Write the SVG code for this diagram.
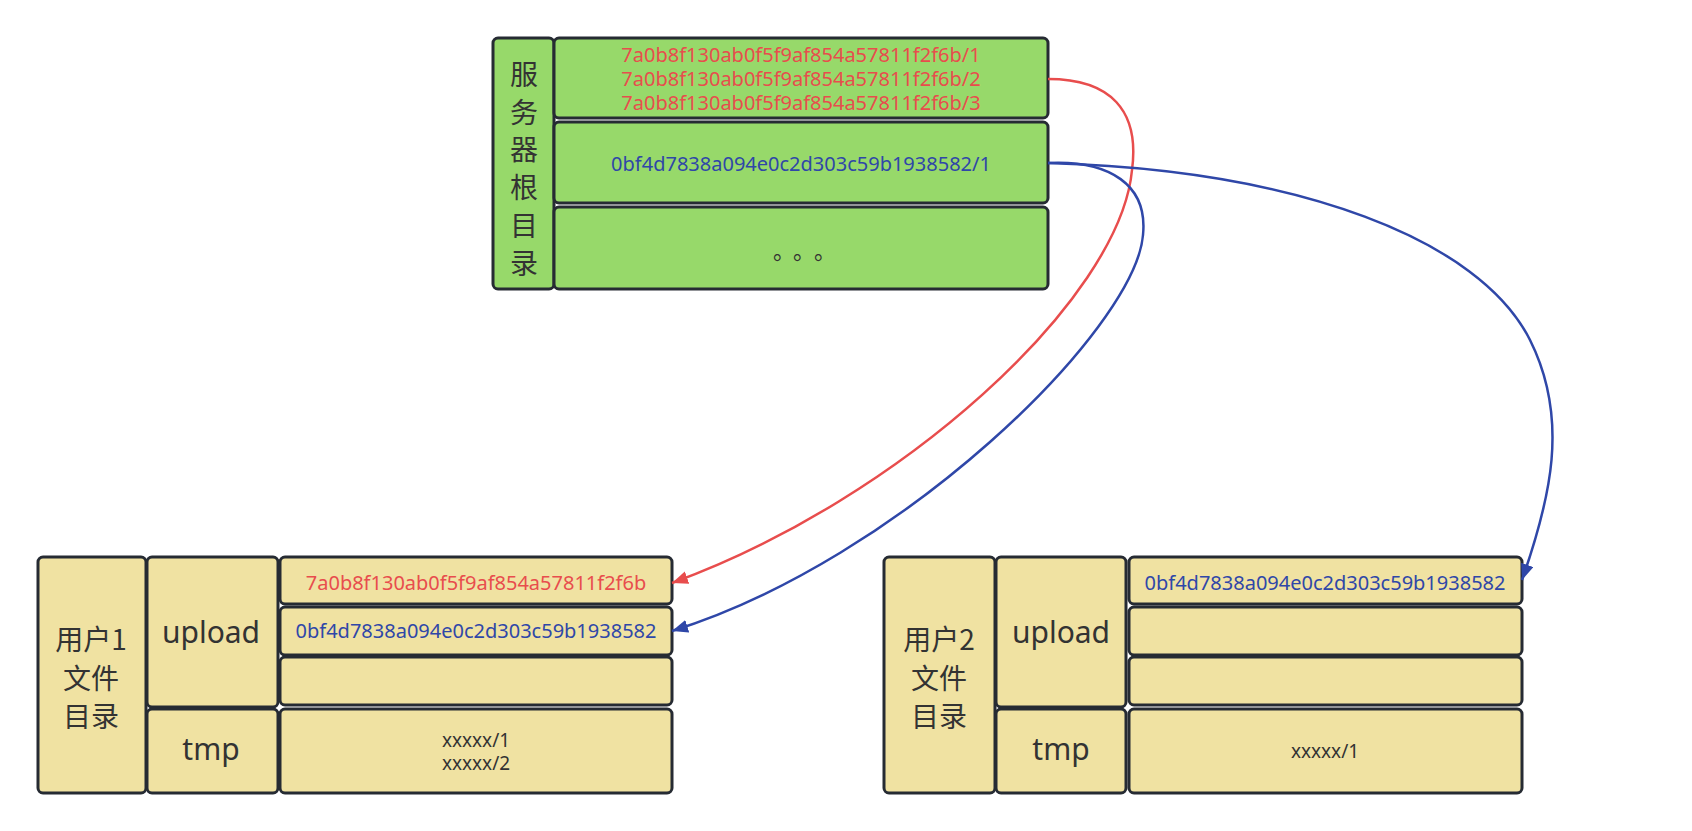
<svg xmlns="http://www.w3.org/2000/svg" width="1692" height="831" viewBox="0 0 1692 831">
  <defs>
    <style>
      .g { fill: #97D96A; stroke: #262B33; stroke-width: 3; }
      .y { fill: #F0E2A2; stroke: #262B33; stroke-width: 3; }
      text { font-family: "Noto Sans", "Noto Sans CJK SC", sans-serif; fill: #333333; text-anchor: middle; }
      .cjk { font-family: "Noto Sans CJK SC", "Noto Sans", sans-serif; font-size: 28px; }
      .lbl { font-size: 30px; }
      .h { font-size: 20px; }
      .sm { font-size: 19px; }
      .dot { font-family: "Noto Sans CJK SC", sans-serif; font-size: 22px; }
      .red { fill: #E84D4D; }
      .blue { fill: #2F47A8; }
      .cr { fill: none; stroke: #E84D4D; stroke-width: 2.5; }
      .cb { fill: none; stroke: #2F47A8; stroke-width: 2.5; }
    </style>
    <marker id="ar" markerUnits="userSpaceOnUse" markerWidth="18" markerHeight="14" refX="16" refY="6.5" orient="auto">
      <path d="M0,0 L16,6.5 L0,13 z" fill="#E84D4D"/>
    </marker>
    <marker id="ab" markerUnits="userSpaceOnUse" markerWidth="18" markerHeight="14" refX="16" refY="6.5" orient="auto">
      <path d="M0,0 L16,6.5 L0,13 z" fill="#2F47A8"/>
    </marker>
  </defs>
  <rect width="1692" height="831" fill="#FFFFFF"/>

  <g id="server">
    <rect class="g" x="493" y="38" width="61" height="251" rx="5"/>
    <text class="cjk" x="524" y="85">服</text>
    <text class="cjk" x="524" y="123">务</text>
    <text class="cjk" x="524" y="160">器</text>
    <text class="cjk" x="524" y="198">根</text>
    <text class="cjk" x="524" y="236">目</text>
    <text class="cjk" x="524" y="274">录</text>
    <rect class="g" x="554" y="38" width="494" height="80" rx="5"/>
    <text class="h red" x="801" y="62">7a0b8f130ab0f5f9af854a57811f2f6b/1</text>
    <text class="h red" x="801" y="86">7a0b8f130ab0f5f9af854a57811f2f6b/2</text>
    <text class="h red" x="801" y="110">7a0b8f130ab0f5f9af854a57811f2f6b/3</text>
    <rect class="g" x="554" y="122" width="494" height="81" rx="5"/>
    <text class="h blue" x="801" y="171">0bf4d7838a094e0c2d303c59b1938582/1</text>
    <rect class="g" x="554" y="207" width="494" height="82" rx="5"/>
    <text class="dot" x="784 804 825" y="259">。。。</text>
  </g>

  <g id="user1">
    <rect class="y" x="38" y="557" width="108" height="236" rx="5"/>
    <text class="cjk" x="91" y="650">用户1</text>
    <text class="cjk" x="91" y="689">文件</text>
    <text class="cjk" x="91" y="727">目录</text>
    <rect class="y" x="147" y="557" width="131" height="150" rx="5"/>
    <text class="lbl" x="211" y="643">upload</text>
    <rect class="y" x="147" y="709" width="131" height="84" rx="5"/>
    <text class="lbl" x="211" y="760">tmp</text>
    <rect class="y" x="280" y="557" width="392" height="47" rx="5"/>
    <text class="h red" x="476" y="590">7a0b8f130ab0f5f9af854a57811f2f6b</text>
    <rect class="y" x="280" y="607" width="392" height="48" rx="5"/>
    <text class="h blue" x="476" y="638">0bf4d7838a094e0c2d303c59b1938582</text>
    <rect class="y" x="280" y="657" width="392" height="48" rx="5"/>
    <rect class="y" x="280" y="709" width="392" height="84" rx="5"/>
    <text class="sm" x="476" y="747">xxxxx/1</text>
    <text class="sm" x="476" y="770">xxxxx/2</text>
  </g>

  <g id="user2">
    <rect class="y" x="884" y="557" width="111" height="236" rx="5"/>
    <text class="cjk" x="939" y="650">用户2</text>
    <text class="cjk" x="939" y="689">文件</text>
    <text class="cjk" x="939" y="727">目录</text>
    <rect class="y" x="996" y="557" width="130" height="150" rx="5"/>
    <text class="lbl" x="1061" y="643">upload</text>
    <rect class="y" x="996" y="709" width="130" height="84" rx="5"/>
    <text class="lbl" x="1061" y="760">tmp</text>
    <rect class="y" x="1129" y="557" width="393" height="47" rx="5"/>
    <text class="h blue" x="1325" y="590">0bf4d7838a094e0c2d303c59b1938582</text>
    <rect class="y" x="1129" y="607" width="393" height="48" rx="5"/>
    <rect class="y" x="1129" y="657" width="393" height="48" rx="5"/>
    <rect class="y" x="1129" y="709" width="393" height="84" rx="5"/>
    <text class="sm" x="1325" y="758">xxxxx/1</text>
  </g>

  <g id="connectors">
    <path class="cr" d="M1048,79 C1110,79 1140,110 1132,170 C1120,300 900,500 672,583" marker-end="url(#ar)"/>
    <path class="cb" d="M1048,163 C1110,160 1148,185 1143,235 C1135,330 900,560 672,631" marker-end="url(#ab)"/>
    <path class="cb" d="M1048,163 C1300,170 1480,240 1530,340 C1570,420 1550,500 1522,580" marker-end="url(#ab)"/>
  </g>
</svg>
